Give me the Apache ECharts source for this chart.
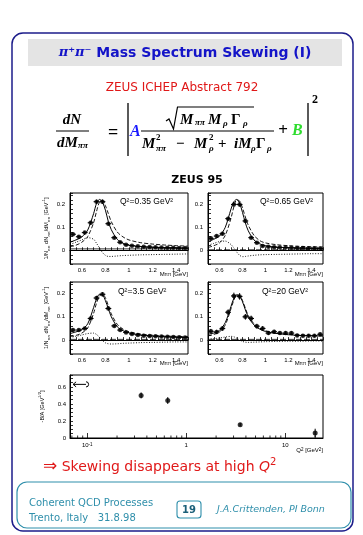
<!DOCTYPE html>
<html><head><meta charset="utf-8">
<script src="https://cdn.jsdelivr.net/npm/echarts@6/dist/echarts.min.js"></script>
<style>html,body{margin:0;padding:0;background:#fff}#c{width:363px;height:535px}</style>
</head><body><div id="c"></div>
<script>
// ---------- data ----------
const massBins = [0.525,0.575,0.625,0.675,0.725,0.775,0.825,0.875,0.925,0.975,1.025,1.075,1.125,1.175,1.225,1.275,1.325,1.375,1.425,1.475];
const binHalfWidth = 0.025;

const q035Points = [0.070,0.059,0.077,0.120,0.212,0.212,0.116,0.055,0.035,0.024,0.020,0.017,0.015,0.014,0.013,0.012,0.011,0.011,0.010,0.010];
const q035Errors = [0.006,0.005,0.005,0.006,0.007,0.007,0.006,0.004,0.003,0.003,0.002,0.002,0.002,0.002,0.002,0.002,0.002,0.002,0.002,0.002];
const q065Points = [0.052,0.062,0.072,0.138,0.200,0.200,0.128,0.055,0.033,0.019,0.015,0.013,0.012,0.012,0.011,0.010,0.010,0.009,0.009,0.008];
const q065Errors = [0.006,0.005,0.005,0.006,0.007,0.007,0.006,0.004,0.003,0.003,0.002,0.002,0.002,0.002,0.002,0.002,0.002,0.002,0.002,0.002];
const q35Points  = [0.043,0.043,0.050,0.093,0.181,0.197,0.136,0.061,0.043,0.033,0.026,0.022,0.019,0.017,0.016,0.015,0.014,0.013,0.012,0.011];
const q35Errors  = [0.005,0.004,0.004,0.005,0.007,0.007,0.006,0.004,0.003,0.003,0.002,0.002,0.002,0.002,0.002,0.002,0.002,0.002,0.002,0.002];
const q20Points  = [0.038,0.035,0.050,0.120,0.190,0.188,0.100,0.093,0.060,0.050,0.030,0.036,0.030,0.030,0.030,0.020,0.019,0.019,0.019,0.025];
const q20Errors  = [0.008,0.007,0.008,0.010,0.012,0.012,0.010,0.010,0.008,0.008,0.006,0.006,0.006,0.006,0.006,0.005,0.005,0.005,0.005,0.005];

const curveMass = [0.5,0.55,0.6,0.65,0.7,0.725,0.75,0.775,0.8,0.825,0.85,0.9,0.95,1.0,1.1,1.2,1.3,1.4,1.5];
const q035Total = [0.035,0.045,0.058,0.088,0.160,0.205,0.222,0.210,0.175,0.125,0.090,0.048,0.030,0.022,0.016,0.013,0.011,0.010,0.009];
const q035BreitWigner = [0.015,0.022,0.035,0.060,0.120,0.170,0.210,0.218,0.195,0.160,0.125,0.080,0.058,0.045,0.033,0.027,0.023,0.020,0.018];
const q035Interference = [0.025,0.035,0.045,0.055,0.048,0.030,0.010,-0.010,-0.022,-0.027,-0.027,-0.025,-0.023,-0.022,-0.020,-0.019,-0.018,-0.017,-0.016];
const q035Background = 0.006;

const q065Total = [0.038,0.048,0.062,0.100,0.180,0.212,0.222,0.205,0.165,0.120,0.085,0.045,0.028,0.020,0.014,0.011,0.009,0.008,0.007];
const q065BreitWigner = [0.012,0.020,0.032,0.065,0.140,0.190,0.220,0.215,0.185,0.145,0.110,0.065,0.042,0.032,0.024,0.020,0.017,0.015,0.014];
const q065Interference = [0.022,0.030,0.038,0.040,0.025,0.010,-0.008,-0.022,-0.028,-0.027,-0.025,-0.022,-0.020,-0.019,-0.018,-0.017,-0.016,-0.015,-0.015];
const q065Background = 0.002;

const q35Total = [0.028,0.035,0.045,0.070,0.140,0.178,0.197,0.195,0.170,0.135,0.100,0.058,0.040,0.031,0.022,0.018,0.015,0.013,0.012];
const q35BreitWigner = [0.015,0.020,0.030,0.052,0.115,0.160,0.190,0.198,0.182,0.148,0.113,0.068,0.047,0.036,0.026,0.021,0.018,0.016,0.015];
const q35Interference = [0.012,0.016,0.022,0.028,0.030,0.024,0.012,-0.002,-0.012,-0.016,-0.017,-0.016,-0.014,-0.013,-0.011,-0.010,-0.009,-0.008,-0.008];
const q35Background = 0.003;

const q20Total = [0.025,0.030,0.042,0.075,0.145,0.180,0.195,0.190,0.165,0.130,0.100,0.065,0.047,0.037,0.028,0.023,0.020,0.018,0.017];
const q20BreitWigner = [0.018,0.024,0.035,0.065,0.135,0.172,0.193,0.192,0.170,0.137,0.106,0.070,0.050,0.040,0.030,0.025,0.022,0.020,0.019];
const q20Interference = [0.004,0.006,0.009,0.013,0.016,0.014,0.008,0.000,-0.006,-0.009,-0.010,-0.009,-0.008,-0.007,-0.006,-0.005,-0.005,-0.004,-0.004];
const q20Background = 0.003;

const panelLabels = ['Q\u00b2=0.35 GeV\u00b2','Q\u00b2=0.65 GeV\u00b2','Q\u00b2=3.5 GeV\u00b2','Q\u00b2=20 GeV\u00b2'];

const q2Values = [0.35,0.65,3.5,20];
const skewRatio = [0.50,0.44,0.157,0.059];
const skewErrors = [0.035,0.04,0.02,0.05];
const photoprodRange = [0.072,0.103];
const photoprodRatio = 0.63;
const logMinorTicks = [0.07,0.08,0.09,0.2,0.3,0.4,0.5,0.6,0.7,0.8,0.9,2,3,4,5,6,7,8,9,20];

const massTickLabels = ['0.6','0.8','1','1.2','1.4'];
const densTickLabels = ['0','0.1','0.2'];
const skewTickLabels = ['0','0.2','0.4','0.6'];

// ---------- chart ----------
const chart = echarts.init(document.getElementById('c'), null, {renderer:'canvas', width:363, height:535});
const black = '#000';
const lab = 'Liberation Sans';
const mathFont = 'Liberation Serif';

const panels = [
  {pts:q035Points, err:q035Errors, tot:q035Total, bw:q035BreitWigner, intf:q035Interference, bg:q035Background, bgDash:false},
  {pts:q065Points, err:q065Errors, tot:q065Total, bw:q065BreitWigner, intf:q065Interference, bg:q065Background, bgDash:true},
  {pts:q35Points,  err:q35Errors,  tot:q35Total,  bw:q35BreitWigner,  intf:q35Interference,  bg:q35Background,  bgDash:true},
  {pts:q20Points,  err:q20Errors,  tot:q20Total,  bw:q20BreitWigner,  intf:q20Interference,  bg:q20Background,  bgDash:true}
];
const gridBoxes = [
  {left:70, top:193, width:118, height:71},
  {left:208, top:193, width:115, height:71},
  {left:70, top:282, width:118, height:72},
  {left:208, top:282, width:115, height:72},
  {left:70, top:375, width:253, height:63}
];

const fmt2 = v => String(Math.round(v*100)/100);
const tickStyle = {show:true, inside:true, length:3, lineStyle:{color:black, width:0.8}};
const lineStyleAxis = {show:true, lineStyle:{color:black, width:1}};

const grid = gridBoxes.map(g => Object.assign({show:true, borderColor:black, borderWidth:1, backgroundColor:'transparent', containLabel:false}, g));
const xAxis = [], yAxis = [], series = [];

panels.forEach((p, i) => {
  xAxis.push({gridIndex:i, type:'value', min:0.5, max:1.5, interval:0.05,
    axisLine:lineStyleAxis, axisTick:tickStyle, splitLine:{show:false},
    axisLabel:{fontSize:6, fontFamily:lab, color:black, margin:3,
      formatter:v => massTickLabels.includes(fmt2(v)) ? fmt2(v) : ''}});
  yAxis.push({gridIndex:i, type:'value', min:-0.06, max:0.25, interval:0.02,
    axisLine:lineStyleAxis, axisTick:tickStyle, splitLine:{show:false},
    name: (i % 2 === 0) ? '1/N{s|\u03c0\u03c0} dN{s|\u03c0\u03c0}/dM{s|\u03c0\u03c0} [GeV{p|-1}]' : '',
    nameLocation:'middle', nameGap:19, nameRotate:90,
    nameTextStyle:{fontSize:5.5, fontFamily:lab, color:black, lineHeight:9,
      rich:{s:{fontSize:4, verticalAlign:'bottom', lineHeight:5, fontFamily:lab}, p:{fontSize:4, verticalAlign:'top', lineHeight:4, fontFamily:lab}}},
    axisLabel:{fontSize:6, fontFamily:lab, color:black, margin:5,
      formatter:v => densTickLabels.includes(fmt2(v)) ? fmt2(v) : ''}});
  const lineBase = {type:'line', xAxisIndex:i, yAxisIndex:i, showSymbol:false, symbol:'none', smooth:0.3, silent:true, z:3};
  series.push(Object.assign({}, lineBase, {data:curveMass.map((m,k)=>[m,p.tot[k]]), lineStyle:{color:black, width:1}}));
  series.push(Object.assign({}, lineBase, {data:curveMass.map((m,k)=>[m,p.bw[k]]), lineStyle:{color:black, width:0.9, type:[4,2]}}));
  series.push(Object.assign({}, lineBase, {data:curveMass.map((m,k)=>[m,p.intf[k]]), lineStyle:{color:black, width:0.9, type:[1,1.6]}}));
  series.push(Object.assign({}, lineBase, {smooth:false, data:[[0.5,p.bg],[1.5,p.bg]], lineStyle:{color:black, width:0.8, type:p.bgDash ? [6,2] : 'solid'}}));
  series.push({type:'custom', xAxisIndex:i, yAxisIndex:i, silent:true, z:4,
    data:massBins.map((m,k)=>[m, p.pts[k], p.err[k], binHalfWidth]),
    renderItem:(params, api) => {
      const x = api.value(0), y = api.value(1), e = api.value(2), hw = api.value(3);
      const t = api.coord([x, y+e]), b = api.coord([x, y-e]), l = api.coord([x-hw, y]), r = api.coord([x+hw, y]);
      return {type:'group', children:[
        {type:'line', shape:{x1:t[0], y1:t[1]-0.5, x2:b[0], y2:b[1]+0.5}, style:{stroke:black, lineWidth:1}},
        {type:'line', shape:{x1:l[0], y1:l[1], x2:r[0], y2:r[1]}, style:{stroke:black, lineWidth:1}}
      ]};
    }});
  series.push({type:'scatter', xAxisIndex:i, yAxisIndex:i, silent:true, z:5, symbol:'circle', symbolSize:4.5,
    itemStyle:{color:black}, data:massBins.map((m,k)=>[m, p.pts[k]])});
});

// bottom: skewing parameter vs Q2
xAxis.push({gridIndex:4, type:'log', logBase:10, min:0.067, max:24,
  axisLine:lineStyleAxis, axisTick:{show:true, inside:true, length:5, lineStyle:{color:black, width:0.8}}, splitLine:{show:false},
  axisLabel:{fontSize:6, fontFamily:lab, color:black, margin:4, showMinLabel:false, showMaxLabel:false,
    rich:{s:{fontSize:4.5, verticalAlign:'top', lineHeight:4, fontFamily:lab}},
    formatter:v => { const e = Math.log10(v); if (Math.abs(e - Math.round(e)) > 1e-6) return ''; const r = Math.round(e);
      return r === 0 ? '1' : (r === 1 ? '10' : '10{s|' + r + '}'); }}});
yAxis.push({gridIndex:4, type:'value', min:0, max:0.74, interval:0.05,
  axisLine:lineStyleAxis, axisTick:tickStyle, splitLine:{show:false},
  name:'-B/A [GeV{p|1/2}]', nameLocation:'middle', nameGap:12, nameRotate:90,
  nameTextStyle:{fontSize:5.5, fontFamily:lab, color:black, lineHeight:9,
    rich:{p:{fontSize:4, verticalAlign:'top', lineHeight:4, fontFamily:lab}}},
  axisLabel:{fontSize:6, fontFamily:lab, color:black, margin:4,
    formatter:v => skewTickLabels.includes(fmt2(v)) ? fmt2(v) : ''}});

series.push({type:'custom', xAxisIndex:4, yAxisIndex:4, silent:true, z:3,
  data:logMinorTicks.map(v=>[v]),
  renderItem:(params, api) => { const p = api.coord([api.value(0), 0]);
    return {type:'line', shape:{x1:p[0], y1:p[1], x2:p[0], y2:p[1]-2.5}, style:{stroke:black, lineWidth:0.8}}; }});
series.push({type:'custom', xAxisIndex:4, yAxisIndex:4, silent:true, z:4,
  data:q2Values.map((q,k)=>[q, skewRatio[k], skewErrors[k]]),
  renderItem:(params, api) => { const x = api.value(0), y = api.value(1), e = api.value(2);
    const t = api.coord([x, y+e]), b = api.coord([x, y-e]);
    return {type:'line', shape:{x1:t[0], y1:t[1], x2:b[0], y2:b[1]}, style:{stroke:black, lineWidth:1}}; }});
series.push({type:'scatter', xAxisIndex:4, yAxisIndex:4, silent:true, z:5, symbol:'circle', symbolSize:5,
  itemStyle:{color:black}, data:q2Values.map((q,k)=>[q, skewRatio[k]])});
series.push({type:'custom', xAxisIndex:4, yAxisIndex:4, silent:true, z:5,
  data:[[photoprodRange[0], photoprodRange[1], photoprodRatio]],
  renderItem:(params, api) => {
    const a = api.coord([api.value(0), api.value(2)]), b = api.coord([api.value(1), api.value(2)]);
    return {type:'group', children:[
      {type:'line', shape:{x1:a[0], y1:a[1], x2:b[0]-2.5, y2:b[1]}, style:{stroke:black, lineWidth:1}},
      {type:'polyline', shape:{points:[[a[0]+3, a[1]-2.5],[a[0], a[1]],[a[0]+3, a[1]+2.5]]}, style:{stroke:black, fill:null, lineWidth:1}},
      {type:'arc', shape:{cx:b[0]-2.5, cy:b[1], r:2.6, startAngle:-Math.PI/2, endAngle:Math.PI/2}, style:{stroke:black, fill:null, lineWidth:1}}
    ]};
  }});

// ---------- slide decoration & text ----------
function T(x, y, text, o) {
  o = o || {};
  return {type:'text', x:x, y:y, z:10, silent:true, style:{text:text, fill:o.fill || black,
    fontSize:o.size || 15, fontFamily:o.family || mathFont, fontWeight:o.weight || 'bold', fontStyle:o.style || 'italic',
    textAlign:o.align || 'left', align:o.align || 'left', textVerticalAlign:'middle', verticalAlign:'middle', rich:o.rich}};
}
function L(x1, y1, x2, y2, w) {
  return {type:'line', z:10, silent:true, shape:{x1:x1, y1:y1, x2:x2, y2:y2}, style:{stroke:black, lineWidth:w || 1.2}};
}
const blue = '#1414c8';
const red = '#e01818';
const teal = '#2f8fab';
const up = {style:'normal'};

const graphic = [
  {type:'rect', z:-1, silent:true, shape:{x:12, y:33, width:341, height:498, r:11}, style:{fill:null, stroke:'#1c1c8a', lineWidth:1.5}},
  {type:'rect', z:-1, silent:true, shape:{x:28, y:39, width:314, height:27}, style:{fill:'#e4e4e4'}},
  T(185, 53, '{pi|\u03c0\u207a\u03c0\u207b} Mass Spectrum Skewing (I)', {fill:blue, size:14, family:'DejaVu Sans', style:'normal', align:'center',
     rich:{pi:{fontFamily:'DejaVu Serif', fontStyle:'italic', fontWeight:'bold', fontSize:13, fill:blue}}}),
  T(182, 88, 'ZEUS ICHEP Abstract 792', {fill:red, size:12, family:'DejaVu Sans', style:'normal', weight:'normal', align:'center'}),
  // formula
  T(72, 120, 'dN', {align:'center'}),
  L(56, 131, 89, 131),
  T(57, 143, 'dM'),
  T(78, 146, '\u03c0\u03c0', {size:9}),
  T(108, 133, '=', {size:18, style:'normal'}),
  L(128, 103, 128, 156, 1.3),
  T(130, 132, 'A', {fill:'#1a1aff', size:16}),
  {type:'polyline', z:10, silent:true, shape:{points:[[166,121],[169,119],[173.5,129],[177.5,107],[254,107]]}, style:{stroke:black, fill:null, lineWidth:1.2}},
  T(180, 120, 'M'), T(195, 123, '\u03c0\u03c0', {size:9}),
  T(208, 120, 'M'), T(223, 124, '\u03c1', {size:9}),
  T(231, 120, '\u0393', up), T(243, 124, '\u03c1', {size:9}),
  L(141, 131, 274, 131),
  T(142, 144, 'M'), T(156, 138, '2', {size:9, style:'normal'}), T(156, 149, '\u03c0\u03c0', {size:9}),
  T(176, 144, '\u2212', {style:'normal'}),
  T(194, 144, 'M'), T(209, 138, '2', {size:9, style:'normal'}), T(209, 149, '\u03c1', {size:9}),
  T(218, 144, '+', {style:'normal'}),
  T(234, 144, 'iM'), T(251, 149, '\u03c1', {size:9}),
  T(256, 144, '\u0393', up), T(267, 149, '\u03c1', {size:9}),
  T(283, 131, '+', {size:17, style:'normal', align:'center'}),
  T(292, 131, 'B', {fill:'#2fdc2f', size:16}),
  L(308, 103, 308, 156, 1.3),
  T(312, 100, '2', {size:12, style:'normal'}),
  // ZEUS 95
  T(197, 180, 'ZEUS 95', {size:11, family:'DejaVu Sans', style:'normal', align:'center'}),
  // panel texts
  T(120, 202, panelLabels[0], {size:8.5, family:lab, style:'normal', weight:'normal'}),
  T(260, 202, panelLabels[1], {size:8.5, family:lab, style:'normal', weight:'normal'}),
  T(118, 292, panelLabels[2], {size:8.5, family:lab, style:'normal', weight:'normal'}),
  T(262, 292, panelLabels[3], {size:8.5, family:lab, style:'normal', weight:'normal'}),
  // bottom statement
  T(43, 467, '{a|\u21d2} Skewing disappears at high {q|Q}{s|2}', {fill:red, size:14, family:'DejaVu Sans', style:'normal', weight:'normal',
     rich:{a:{fontSize:17, fontFamily:'DejaVu Sans', fill:red, lineHeight:20}, q:{fontStyle:'italic', fontSize:14, fontFamily:'DejaVu Sans', fill:red, lineHeight:20},
           s:{fontSize:10, fontFamily:'DejaVu Sans', fill:red, verticalAlign:'top', lineHeight:9}}}),
  // footer
  {type:'rect', z:-1, silent:true, shape:{x:17, y:482, width:334, height:46, r:10}, style:{fill:null, stroke:teal, lineWidth:1.2}},
  T(29, 503, 'Coherent QCD Processes', {fill:teal, size:10, family:'DejaVu Sans', style:'normal', weight:'normal'}),
  T(29, 518, 'Trento, Italy   31.8.98', {fill:teal, size:10, family:'DejaVu Sans', style:'normal', weight:'normal'}),
  {type:'rect', z:-1, silent:true, shape:{x:177, y:501, width:24, height:17, r:3}, style:{fill:null, stroke:teal, lineWidth:1.1}},
  T(189, 510, '19', {fill:'#1b5f78', size:10, family:'DejaVu Sans', style:'normal', weight:'bold', align:'center'}),
  T(217, 510, 'J.A.Crittenden, PI Bonn', {fill:teal, size:9.5, family:'DejaVu Sans', style:'italic', weight:'normal'})
];

// axis titles for mass panels and Q2 axis
function axisTitle(xRight, y) {
  return T(xRight, y, 'M{s|\u03c0\u03c0} [GeV]', {size:6, family:lab, style:'normal', weight:'normal', align:'right',
    rich:{s:{fontSize:4.5, fontFamily:lab, verticalAlign:'bottom', lineHeight:6}}});
}
graphic.push(axisTitle(188, 274), axisTitle(323, 274), axisTitle(188, 363), axisTitle(323, 363));
graphic.push(T(323, 450, 'Q{p|2} [GeV{p|2}]', {size:6, family:lab, style:'normal', weight:'normal', align:'right',
  rich:{p:{fontSize:4.5, fontFamily:lab, verticalAlign:'top', lineHeight:4}}}));

chart.setOption({animation:false, backgroundColor:'#fff', grid:grid, xAxis:xAxis, yAxis:yAxis, series:series, graphic:{elements:graphic}});
</script></body></html>
